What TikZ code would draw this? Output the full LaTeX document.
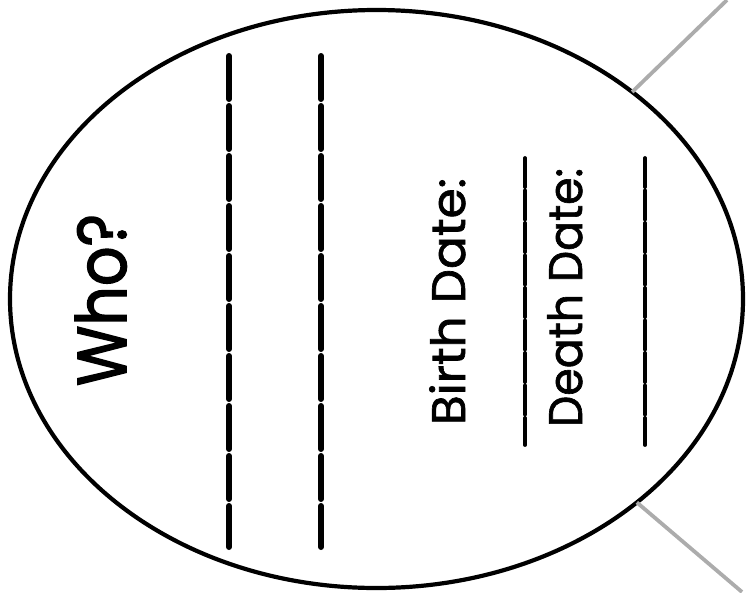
\documentclass[tikz,border=0pt]{standalone}
\usepackage{fontspec}
\setmainfont{Poppins}
\newfontfamily\heavyfont[FakeBold=2.2]{Poppins}
\newfontfamily\midfont[FakeBold=1.4]{Poppins}
\usetikzlibrary{shapes.geometric}
\begin{document}
\begin{tikzpicture}[x=1pt,y=-1pt,
  bubble/.style={ellipse, draw=black, line width=4.2pt, minimum width=733pt, minimum height=578pt, inner sep=0pt, outer sep=0pt},
  pencil/.style={draw=gray!65, line width=3.8pt},
  bigdash/.style={line width=6pt, line cap=round, dash pattern=on 43pt off 7pt},
  smalldash/.style={line width=3.8pt, line cap=round, dash pattern=on 29pt off 3.5pt},
  vlabel/.style={rotate=90, anchor=base west, inner sep=0pt, outer sep=0pt}
]
\useasboundingbox (0,0) rectangle (746,592);
\node[bubble] (who) at (376.5,299) {};
% pencil connectors
\coordinate (up) at (727,0);
\coordinate (down) at (742,592);
\draw[pencil] (who.39) -- (up);
\draw[pencil] (who.-38.5) -- (down);
% answer lines
\coordinate (l1a) at (229,56);
\coordinate (l1b) at (229,547);
\coordinate (l2a) at (321,56);
\coordinate (l2b) at (321,547);
\coordinate (b1a) at (525,158);
\coordinate (b1b) at (525,445);
\coordinate (d1a) at (645,158);
\coordinate (d1b) at (645,445);
\draw[bigdash] (l1a) -- (l1b);
\draw[bigdash] (l2a) -- (l2b);
\draw[smalldash] (b1a) -- (b1b);
\draw[smalldash] (d1a) -- (d1b);
% labels
\node[vlabel, font=\heavyfont\fontsize{69}{69}\selectfont] (q) at (126,386) {\resizebox{172pt}{\height}{Who?}};
\node[vlabel, font=\midfont\fontsize{47}{47}\selectfont] (birth) at (465,425) {\resizebox{247pt}{\height}{Birth Date:}};
\node[vlabel, font=\midfont\fontsize{47}{47}\selectfont] (death) at (582,427) {\resizebox{259pt}{\height}{Death Date:}};
\end{tikzpicture}
\end{document}
